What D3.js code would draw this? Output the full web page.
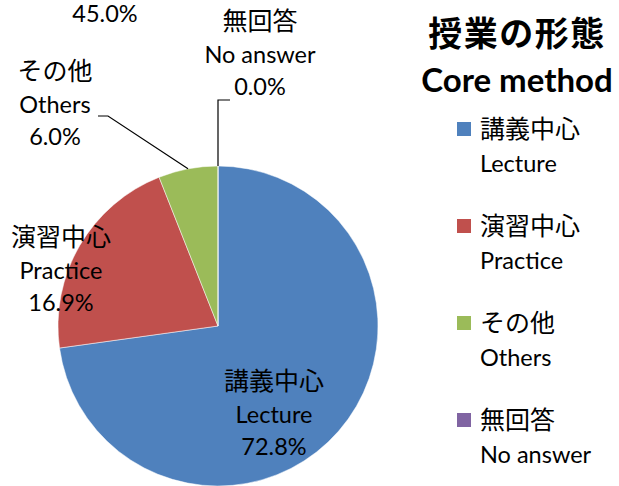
<html>
<script src="https://d3js.org/d3.v7.min.js"></script>
<body style="margin:0;background:#fff"></body>
<script>
const namesJa = ['講義中心', '演習中心', 'その他', '無回答'];
const namesEn = ['Lecture', 'Practice', 'Others', 'No answer'];
// slice sizes as drawn in the picture (angles), labels as printed
const sliceValues = [72.8, 21.2, 6.0, 0.0];
const pctLabels = ['72.8%', '16.9%', '6.0%', '0.0%'];
const strayLabel = '45.0%';
const colors = ['#4F81BD', '#C0504D', '#9BBB59', '#8064A2'];

const width = 619, height = 486;
const cx = 218, cy = 326, r = 160;
const latin = "Lato, 'Noto Sans CJK JP', sans-serif";
const cjk = "'Noto Sans CJK JP', sans-serif";

const svg = d3.select('body').append('svg')
  .attr('width', width)
  .attr('height', height)
  .style('display', 'block');

const pie = d3.pie().sort(null).value(d => d)(sliceValues);
const arc = d3.arc().innerRadius(0).outerRadius(r);

const g = svg.append('g').attr('transform', `translate(${cx},${cy})`);
g.selectAll('path')
  .data(pie)
  .enter()
  .append('path')
  .attr('d', arc)
  .attr('fill', (d, i) => colors[i])
  .attr('stroke', '#fff')
  .attr('stroke-width', 0.5);

// edge point of a slice, at its middle angle
const edge = d => {
  const a = (d.startAngle + d.endAngle) / 2;
  return [cx + r * Math.sin(a), cy - r * Math.cos(a)];
};

// label anchors (centre x, baseline of first line)
const labelPos = [[274, 390], [61, 246], [55, 80], [260, 30]];
const lineGap = 32.5;

const labels = svg.selectAll('g.lbl')
  .data(pie)
  .enter()
  .append('g')
  .attr('class', 'lbl')
  .attr('transform', (d, i) => `translate(${labelPos[i][0]},${labelPos[i][1]})`)
  .attr('text-anchor', 'middle')
  .attr('fill', '#000');
labels.append('text')
  .style('font-family', cjk).style('font-size', '25px')
  .text((d, i) => namesJa[i]);
labels.append('text')
  .attr('y', lineGap)
  .style('font-family', latin).style('font-size', '23.5px')
  .text((d, i) => namesEn[i]);
labels.append('text')
  .attr('y', lineGap * 2)
  .style('font-family', latin).style('font-size', '23.5px')
  .text((d, i) => pctLabels[i]);

svg.append('text')
  .attr('x', 105).attr('y', 22)
  .attr('text-anchor', 'middle')
  .style('font-family', latin).style('font-size', '23.5px')
  .text(strayLabel);

// leader lines
const line = d3.line();
const othersEnd = edge(pie[2]);
svg.append('path')
  .attr('d', line([[98, 116], [108, 116], othersEnd]))
  .attr('fill', 'none').attr('stroke', '#000').attr('stroke-width', 1.2);
const noAnsEnd = edge(pie[3]);
svg.append('path')
  .attr('d', line([[230, 100], [noAnsEnd[0], 100], noAnsEnd]))
  .attr('fill', 'none').attr('stroke', '#000').attr('stroke-width', 1.2);

// title
svg.append('text')
  .attr('x', 517).attr('y', 46)
  .attr('text-anchor', 'middle')
  .style('font-family', cjk).style('font-size', '34px').style('font-weight', 'bold')
  .style('letter-spacing', '1.5px')
  .text('授業の形態');
svg.append('text')
  .attr('x', 517).attr('y', 92)
  .attr('text-anchor', 'middle')
  .style('font-family', latin).style('font-size', '33px').style('font-weight', 'bold')
  .text('Core method');

// legend
const legend = svg.selectAll('g.leg')
  .data(namesJa)
  .enter()
  .append('g')
  .attr('class', 'leg')
  .attr('transform', (d, i) => `translate(457,${122 + i * 97})`);
legend.append('rect')
  .attr('width', 14).attr('height', 14)
  .attr('fill', (d, i) => colors[i]);
legend.append('text')
  .attr('x', 23).attr('y', 16)
  .style('font-family', cjk).style('font-size', '25px')
  .text(d => d);
legend.append('text')
  .attr('x', 23).attr('y', 50)
  .style('font-family', latin).style('font-size', '23.5px')
  .text((d, i) => namesEn[i]);
</script>
</html>
